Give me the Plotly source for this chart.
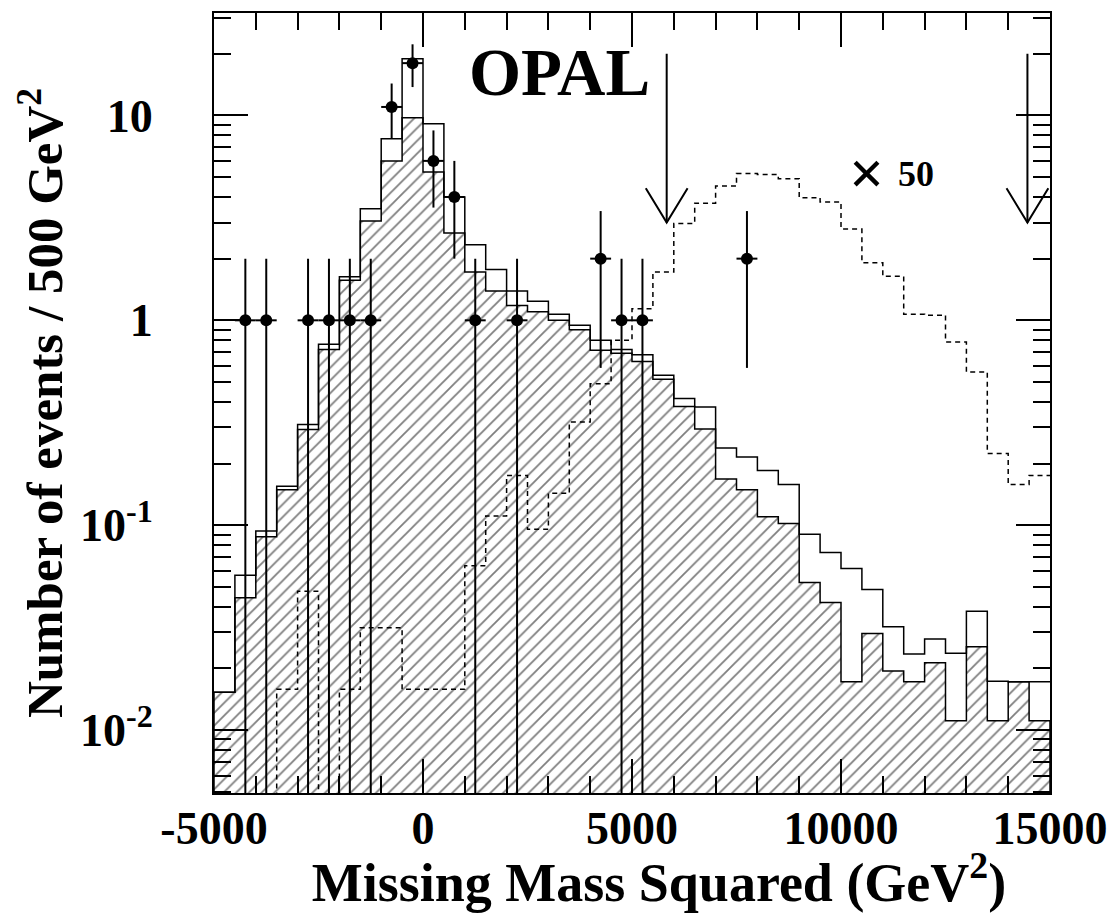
import numpy as np
import plotly.graph_objects as go

# ---------------- data ----------------
bin_low = -5000
bin_width = 500
n_bins = 40

# total background (open histogram)
bkg_total = [0.0153, 0.057, 0.0938, 0.155, 0.31, 0.764, 1.63, 3.5, 7.7, 18.9,
             9.1, 4.0, 2.34, 1.77, 1.39, 1.24, 1.07, 0.946, 0.80, 0.72,
             0.68, 0.54, 0.415, 0.377, 0.238, 0.215, 0.185, 0.158, 0.0903, 0.0736,
             0.0615, 0.0485, 0.0319, 0.0235, 0.0278, 0.0237, 0.038, 0.0173, 0.0172, 0.0172]

# hatched background component
bkg_hatched = [0.0153, 0.0442, 0.0877, 0.149, 0.293, 0.72, 1.57, 3.05, 6.0, 9.75,
               5.3, 2.67, 1.72, 1.39, 1.18, 1.10, 1.0, 0.90, 0.715, 0.69,
               0.63, 0.515, 0.38, 0.295, 0.168, 0.149, 0.11, 0.102, 0.0525, 0.042,
               0.0172, 0.0296, 0.0194, 0.0172, 0.0213, 0.0111, 0.0255, 0.0111, 0.0172, 0.0111]

# signal, scaled x 50 (dashed)
signal_x50 = [0, 0, 0, 0.0158, 0.0476, 0, 0.0158, 0.0316, 0.0316, 0.0158,
              0.0158, 0.0158, 0.0634, 0.111, 0.175, 0.0955, 0.143, 0.319, 0.49, 0.80,
              1.14, 1.72, 2.97, 3.73, 4.52, 5.2, 5.15, 4.91, 3.97, 3.78,
              2.79, 1.91, 1.64, 1.07, 1.06, 0.784, 0.56, 0.224, 0.158, 0.175]

# observed data (bin centres and counts)
data_centers = [-4250, -3750, -2750, -2250, -1750, -1250, -750, -250, 250, 750,
                1250, 2250, 4250, 4750, 5250, 7750]
data_counts = [1, 1, 1, 1, 1, 1, 11, 18, 6, 4, 1, 1, 2, 1, 1, 2]

# selection cuts (arrows)
cut_values = [5830, 14460]
arrow_from = 20.0
arrow_to = 3.0

x_tick_vals = [-5000, 0, 5000, 10000, 15000]
x_tick_text = ["-5000", "0", "5000", "10000", "15000"]
y_tick_vals = [0.01, 0.1, 1, 10]
y_tick_text = ["10<sup>-2</sup>", "10<sup>-1</sup>", "1", "10"]

# ---------------- build ----------------
FLOOR = 1e-4
edges = bin_low + bin_width * np.arange(n_bins + 1)
FONT = "Liberation Serif"


def step_xy(vals):
    v = np.array(vals, dtype=float)
    v = np.where(v > 0, v, FLOOR)
    return list(edges), list(v) + [v[-1]]


fig = go.Figure()

# hatched component (filled polygon)
hx, hy = step_xy(bkg_hatched)
fig.add_trace(go.Scatter(
    x=[edges[0]] + hx + [edges[-1]], y=[FLOOR] + hy + [FLOOR],
    mode="lines", line=dict(shape="hv", color="black", width=1.5),
    fill="toself", fillcolor="white",
    fillpattern=dict(shape="/", fgcolor="black", bgcolor="white", size=9, solidity=0.2),
    hoverinfo="skip", showlegend=False))

# total background outline
tx, ty = step_xy(bkg_total)
fig.add_trace(go.Scatter(x=tx, y=ty, mode="lines",
                         line=dict(shape="hv", color="black", width=1.5),
                         showlegend=False))

# signal x50 dashed
sx, sy = step_xy(signal_x50)
fig.add_trace(go.Scatter(x=sx, y=sy, mode="lines",
                         line=dict(shape="hv", color="black", width=1.5, dash="5px,4px"),
                         showlegend=False))

# data error bars
ex, ey = [], []
for c, n in zip(data_centers, data_counts):
    err = np.sqrt(n)
    ex += [c, c, None, c - bin_width / 2, c + bin_width / 2, None]
    ey += [max(n - err, FLOOR), n + err, None, n, n, None]
fig.add_trace(go.Scatter(x=ex, y=ey, mode="lines",
                         line=dict(color="black", width=2), showlegend=False))
fig.add_trace(go.Scatter(x=data_centers, y=data_counts, mode="markers",
                         marker=dict(color="black", size=12, symbol="circle"),
                         showlegend=False))

# cut arrows
ax_, ay_ = [], []
head_dx = 500
head_fac = 1.47
for cx in cut_values:
    ax_ += [cx, cx, None, cx - head_dx, cx, cx + head_dx, None]
    ay_ += [arrow_from, arrow_to, None, arrow_to * head_fac, arrow_to, arrow_to * head_fac, None]
fig.add_trace(go.Scatter(x=ax_, y=ay_, mode="lines",
                         line=dict(color="black", width=2), showlegend=False))

# minor ticks for log axis
minor_y = [m * 10.0 ** d for d in range(-3, 2) for m in range(2, 10)]

axis_common = dict(showgrid=False, zeroline=False, showline=True, linecolor="black",
                   linewidth=2, mirror="allticks", ticks="inside", tickcolor="black",
                   tickwidth=2, ticklen=34)

fig.update_xaxes(range=[-5000, 15000], tickmode="array", tickvals=x_tick_vals,
                 ticktext=x_tick_text,
                 tickfont=dict(family=FONT, size=46, color="black", weight="bold"),
                 minor=dict(dtick=1000, tick0=0, ticks="inside", ticklen=17,
                            tickwidth=2, tickcolor="black"),
                 ticklabelstandoff=-6,
                 title=dict(text="&nbsp;&nbsp;&nbsp;&nbsp;Missing Mass Squared (GeV<sup>2</sup>)",
                            font=dict(family=FONT, size=54, color="black", weight="bold"),
                            standoff=18),
                 **axis_common)

fig.update_yaxes(type="log", range=[np.log10(0.00493), 1.5], tickmode="array",
                 tickvals=y_tick_vals, ticktext=y_tick_text,
                 tickfont=dict(family=FONT, size=46, color="black", weight="bold"),
                 minor=dict(tickmode="array", tickvals=minor_y, ticks="inside", ticklen=17,
                            tickwidth=2, tickcolor="black"),
                 ticklabelstandoff=50,
                 title=dict(text="Number of events / 500 GeV<sup>2</sup>",
                            font=dict(family=FONT, size=51, color="black", weight="bold"),
                            standoff=1),
                 **axis_common)

fig.add_annotation(text="OPAL", xref="paper", yref="paper", x=0.4127, y=0.924,
                   xanchor="center", yanchor="middle", showarrow=False,
                   font=dict(family=FONT, size=67, color="black", weight="bold"))
fig.add_annotation(text="×", xref="paper", yref="paper", x=0.7811, y=0.795,
                   xanchor="center", yanchor="middle", showarrow=False,
                   font=dict(family=FONT, size=62, color="black", weight="bold"))
fig.add_annotation(text="50", xref="paper", yref="paper", x=0.8403, y=0.7942,
                   xanchor="center", yanchor="middle", showarrow=False,
                   font=dict(family=FONT, size=36, color="black", weight="bold"))

# the page adds an 8px body margin, so the figure is offset by it
fig.update_layout(width=1100, height=905,
                  margin=dict(l=206, r=58, t=5, b=120, autoexpand=False),
                  plot_bgcolor="white", paper_bgcolor="white",
                  showlegend=False)

fig.write_html("out.html")
